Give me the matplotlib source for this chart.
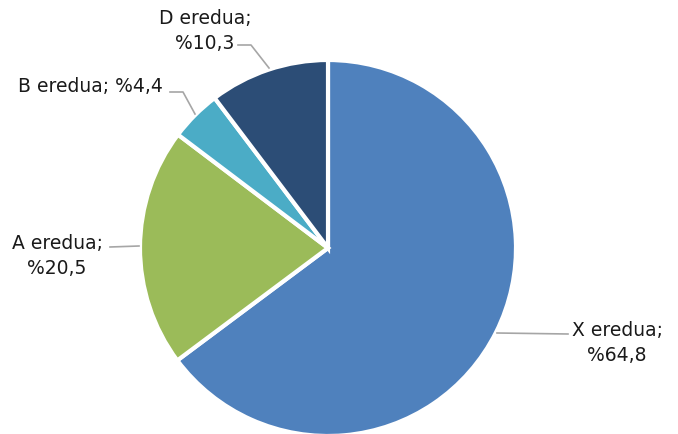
import matplotlib.pyplot as plt

# datuak
etiketak = ['X eredua', 'A eredua', 'B eredua', 'D eredua']
balioak = [64.8, 20.5, 4.4, 10.3]
koloreak = ['#4F81BD', '#9BBB59', '#4BACC6', '#2C4D76']
testuak = ['X eredua;\n%64,8', 'A eredua;\n%20,5', 'B eredua; %4,4', 'D eredua;\n%10,3']

W, H = 678, 434
cx, cy, r = 328, 248, 188   # pie centre and radius in pixels


def px(x, y):
    # pixel (from top-left) -> data coords of the pie axes
    return (x - cx) / r, (cy - y) / r


fig = plt.figure(figsize=(W / 100, H / 100), dpi=100)
ax = fig.add_axes([(cx - r) / W, (H - cy - r) / H, 2 * r / W, 2 * r / H])
ax.pie(balioak, colors=koloreak, startangle=90, counterclock=False, radius=1,
       wedgeprops=dict(edgecolor='white', linewidth=3))
ax.set_xlim(-1, 1)
ax.set_ylim(-1, 1)
ax.set_aspect('equal')
ax.axis('off')

# leader lines (pixel coords) and label positions
lerroak = [
    [(497, 333), (568, 334)],
    [(110, 247), (139, 246)],
    [(170, 92), (183, 92), (195, 114)],
    [(238, 45), (251, 45), (269, 68)],
]
tokiak = [(617, 343), (57, 256), (90, 87), (205, 31)]

for lerro, toki, testu in zip(lerroak, tokiak, testuak):
    xs = [px(*p)[0] for p in lerro]
    ys = [px(*p)[1] for p in lerro]
    ax.plot(xs, ys, color='#A6A6A6', linewidth=1.2, clip_on=False)
    tx, ty = px(*toki)
    ax.text(tx, ty, testu, ha='center', va='center', fontsize=13.5,
            linespacing=1.35, color='#1a1a1a', clip_on=False)

fig.savefig('out.png', dpi=100)
